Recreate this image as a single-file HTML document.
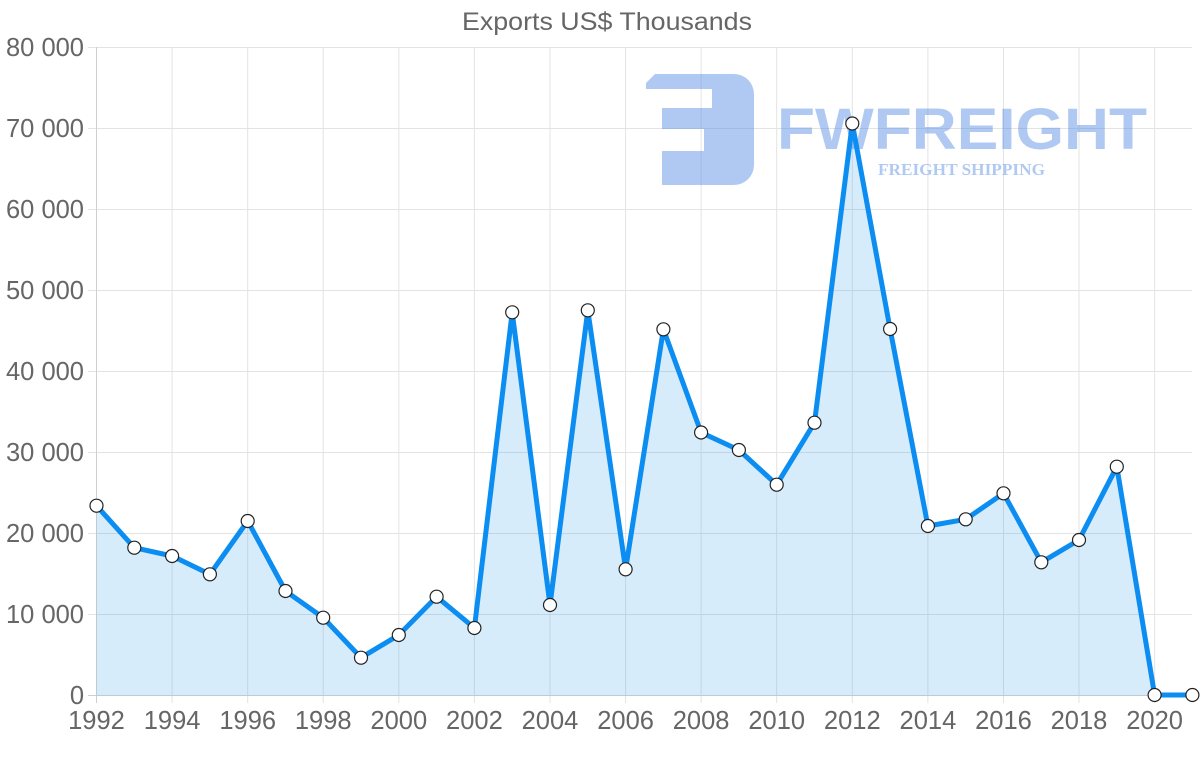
<!DOCTYPE html>
<html>
<head>
<meta charset="utf-8">
<style>
  html, body { margin: 0; padding: 0; background: #ffffff; }
  body { width: 1200px; height: 763px; overflow: hidden; }
  svg { display: block; }
  text { font-family: "Liberation Sans", Arial, sans-serif; }
</style>
</head>
<body>
<svg width="1200" height="763" viewBox="0 0 1200 763" xmlns="http://www.w3.org/2000/svg">
  <rect width="1200" height="763" fill="#ffffff"/>

  <!-- Title -->
  <text x="607" y="30" text-anchor="middle" font-size="25" fill="#666666" textLength="290" lengthAdjust="spacingAndGlyphs">Exports US$ Thousands</text>

  <!-- Horizontal gridlines -->
  <g stroke="#e3e3e3" stroke-width="1">
    <line x1="88" y1="47.5" x2="1192" y2="47.5"/>
    <line x1="88" y1="128.5" x2="1192" y2="128.5"/>
    <line x1="88" y1="209.5" x2="1192" y2="209.5"/>
    <line x1="88" y1="290.5" x2="1192" y2="290.5"/>
    <line x1="88" y1="371.5" x2="1192" y2="371.5"/>
    <line x1="88" y1="452.5" x2="1192" y2="452.5"/>
    <line x1="88" y1="533.5" x2="1192" y2="533.5"/>
    <line x1="88" y1="614.5" x2="1192" y2="614.5"/>
  </g>
  <!-- Vertical gridlines (every 2 years) -->
  <g stroke="#e3e3e3" stroke-width="1">
    <line x1="172.1" y1="47" x2="172.1" y2="703"/>
    <line x1="247.7" y1="47" x2="247.7" y2="703"/>
    <line x1="323.2" y1="47" x2="323.2" y2="703"/>
    <line x1="398.8" y1="47" x2="398.8" y2="703"/>
    <line x1="474.4" y1="47" x2="474.4" y2="703"/>
    <line x1="550.0" y1="47" x2="550.0" y2="703"/>
    <line x1="625.6" y1="47" x2="625.6" y2="703"/>
    <line x1="701.1" y1="47" x2="701.1" y2="703"/>
    <line x1="776.7" y1="47" x2="776.7" y2="703"/>
    <line x1="852.3" y1="47" x2="852.3" y2="703"/>
    <line x1="927.9" y1="47" x2="927.9" y2="703"/>
    <line x1="1003.5" y1="47" x2="1003.5" y2="703"/>
    <line x1="1079.0" y1="47" x2="1079.0" y2="703"/>
    <line x1="1154.6" y1="47" x2="1154.6" y2="703"/>
  </g>
  <!-- Axis lines -->
  <g stroke="#cfcfcf" stroke-width="1">
    <line x1="96.5" y1="47" x2="96.5" y2="703"/>
    <line x1="88" y1="695.5" x2="1192" y2="695.5"/>
  </g>

  <!-- Watermark logo -->
  <g fill="#4f87e3" fill-opacity="0.45">
    <path d="M655,74 H734 A20,20 0 0 1 754,94 V165 A20,20 0 0 1 734,185 H662 V151 H704 V129 H662 V108 H712 V89 H646 V83 Z"/>
  </g>
  <text x="777" y="149" font-size="58" font-weight="bold" fill="#4f87e3" fill-opacity="0.45" textLength="370" lengthAdjust="spacingAndGlyphs">FWFREIGHT</text>
  <text x="878" y="175" font-size="17" font-weight="bold" fill="#4f87e3" fill-opacity="0.45" textLength="167" lengthAdjust="spacingAndGlyphs" style="font-family:'Liberation Serif', serif;">FREIGHT SHIPPING</text>

  <!-- Area fill -->
  <path fill="rgba(54,162,235,0.2)" stroke="none" d="M96.5,695.5
    L96.5,505.7 L134.3,547.7 L172.1,556 L209.9,574.3 L247.7,521 L285.5,591 L323.2,617.7 L361.0,657.7 L398.8,635 L436.6,596.7
    L474.4,628 L512.2,312.3 L550.0,605 L587.8,310.3 L625.6,569.3 L663.4,329.3 L701.1,432.5 L738.9,450 L776.7,484.7 L814.5,422.7
    L852.3,123.5 L890.1,329 L927.9,526 L965.7,519.3 L1003.5,493.3 L1041.3,562.3 L1079.0,540 L1116.8,466.7 L1154.6,695 L1192.4,695
    L1192.4,695.5 Z"/>

  <!-- Line -->
  <polyline fill="none" stroke="#0b8df2" stroke-width="5" stroke-linejoin="round" stroke-linecap="round" points="
    96.5,505.7 134.3,547.7 172.1,556 209.9,574.3 247.7,521 285.5,591 323.2,617.7 361.0,657.7 398.8,635 436.6,596.7
    474.4,628 512.2,312.3 550.0,605 587.8,310.3 625.6,569.3 663.4,329.3 701.1,432.5 738.9,450 776.7,484.7 814.5,422.7
    852.3,123.5 890.1,329 927.9,526 965.7,519.3 1003.5,493.3 1041.3,562.3 1079.0,540 1116.8,466.7 1154.6,695 1192.4,695"/>

  <!-- Points -->
  <g fill="#ffffff" stroke="#222222" stroke-width="1.2">
    <circle cx="96.5" cy="505.7" r="6.5"/>
    <circle cx="134.3" cy="547.7" r="6.5"/>
    <circle cx="172.1" cy="556" r="6.5"/>
    <circle cx="209.9" cy="574.3" r="6.5"/>
    <circle cx="247.7" cy="521" r="6.5"/>
    <circle cx="285.5" cy="591" r="6.5"/>
    <circle cx="323.2" cy="617.7" r="6.5"/>
    <circle cx="361.0" cy="657.7" r="6.5"/>
    <circle cx="398.8" cy="635" r="6.5"/>
    <circle cx="436.6" cy="596.7" r="6.5"/>
    <circle cx="474.4" cy="628" r="6.5"/>
    <circle cx="512.2" cy="312.3" r="6.5"/>
    <circle cx="550.0" cy="605" r="6.5"/>
    <circle cx="587.8" cy="310.3" r="6.5"/>
    <circle cx="625.6" cy="569.3" r="6.5"/>
    <circle cx="663.4" cy="329.3" r="6.5"/>
    <circle cx="701.1" cy="432.5" r="6.5"/>
    <circle cx="738.9" cy="450" r="6.5"/>
    <circle cx="776.7" cy="484.7" r="6.5"/>
    <circle cx="814.5" cy="422.7" r="6.5"/>
    <circle cx="852.3" cy="123.5" r="6.5"/>
    <circle cx="890.1" cy="329" r="6.5"/>
    <circle cx="927.9" cy="526" r="6.5"/>
    <circle cx="965.7" cy="519.3" r="6.5"/>
    <circle cx="1003.5" cy="493.3" r="6.5"/>
    <circle cx="1041.3" cy="562.3" r="6.5"/>
    <circle cx="1079.0" cy="540" r="6.5"/>
    <circle cx="1116.8" cy="466.7" r="6.5"/>
    <circle cx="1154.6" cy="695" r="6.5"/>
    <circle cx="1192.4" cy="695" r="6.5"/>
  </g>

  <!-- Y-axis labels -->
  <g font-size="25.5" fill="#666666" text-anchor="end">
    <text x="84" y="56">80 000</text>
    <text x="84" y="137">70 000</text>
    <text x="84" y="218">60 000</text>
    <text x="84" y="299">50 000</text>
    <text x="84" y="380">40 000</text>
    <text x="84" y="461">30 000</text>
    <text x="84" y="542">20 000</text>
    <text x="84" y="623">10 000</text>
    <text x="84" y="704">0</text>
  </g>

  <!-- X-axis labels -->
  <g font-size="25.5" fill="#666666" text-anchor="middle">
    <text x="96.5" y="729">1992</text>
    <text x="172.1" y="729">1994</text>
    <text x="247.7" y="729">1996</text>
    <text x="323.2" y="729">1998</text>
    <text x="398.8" y="729">2000</text>
    <text x="474.4" y="729">2002</text>
    <text x="550.0" y="729">2004</text>
    <text x="625.6" y="729">2006</text>
    <text x="701.1" y="729">2008</text>
    <text x="776.7" y="729">2010</text>
    <text x="852.3" y="729">2012</text>
    <text x="927.9" y="729">2014</text>
    <text x="1003.5" y="729">2016</text>
    <text x="1079.0" y="729">2018</text>
    <text x="1154.6" y="729">2020</text>
  </g>
</svg>
</body>
</html>
